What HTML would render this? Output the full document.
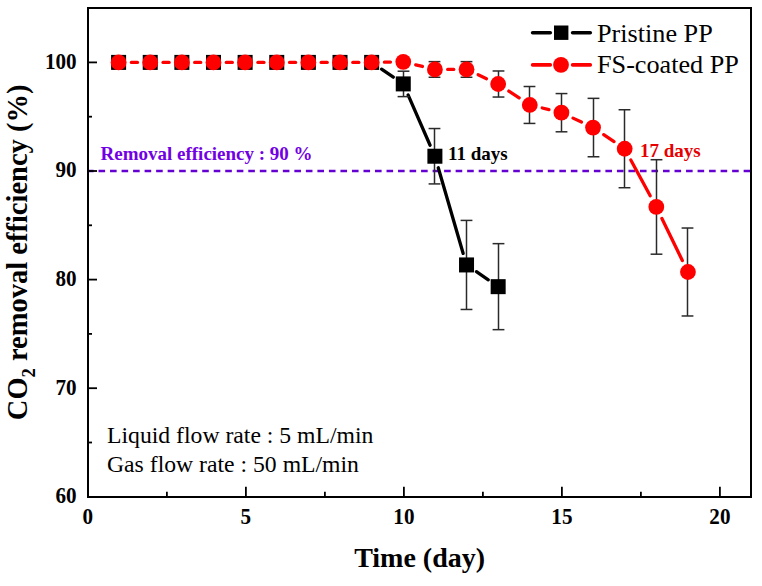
<!DOCTYPE html>
<html><head><meta charset="utf-8"><style>
html,body{margin:0;padding:0;background:#fff;width:762px;height:586px;overflow:hidden}
svg{display:block}
text{font-family:"Liberation Serif", serif}
</style></head><body>
<svg width="762" height="586" viewBox="0 0 762 586">
<rect width="762" height="586" fill="#fff"/>
<line x1="89" y1="171" x2="751" y2="171" stroke="#6400d2" stroke-width="2.5" stroke-dasharray="6.6 4.92" stroke-dashoffset="2.0"/>
<g stroke="#000" stroke-width="3.3" stroke-linecap="round"><line x1="381.56" y1="69.15" x2="393.35" y2="77.16"/><line x1="408.08" y1="94.90" x2="430.09" y2="145.24"/><line x1="438.25" y1="167.75" x2="463.18" y2="253.42"/><line x1="476.42" y1="271.73" x2="488.27" y2="279.87"/></g>
<g stroke="#2a2a2a" stroke-width="1.5"><line x1="403.50" y1="71.20" x2="403.50" y2="96.61"/><line x1="397.60" y1="71.20" x2="409.40" y2="71.20"/><line x1="397.60" y1="96.61" x2="409.40" y2="96.61"/><line x1="434.50" y1="128.54" x2="434.50" y2="183.92"/><line x1="428.60" y1="128.54" x2="440.40" y2="128.54"/><line x1="428.60" y1="183.92" x2="440.40" y2="183.92"/><line x1="466.50" y1="220.41" x2="466.50" y2="309.47"/><line x1="460.60" y1="220.41" x2="472.40" y2="220.41"/><line x1="460.60" y1="309.47" x2="472.40" y2="309.47"/><line x1="498.50" y1="243.65" x2="498.50" y2="329.66"/><line x1="492.60" y1="243.65" x2="504.40" y2="243.65"/><line x1="492.60" y1="329.66" x2="504.40" y2="329.66"/></g>
<g fill="#000"><rect x="111.10" y="54.90" width="15" height="15"/><rect x="142.73" y="54.90" width="15" height="15"/><rect x="174.36" y="54.90" width="15" height="15"/><rect x="205.99" y="54.90" width="15" height="15"/><rect x="237.62" y="54.90" width="15" height="15"/><rect x="269.25" y="54.90" width="15" height="15"/><rect x="300.88" y="54.90" width="15" height="15"/><rect x="332.51" y="54.90" width="15" height="15"/><rect x="364.14" y="54.90" width="15" height="15"/><rect x="395.77" y="76.40" width="15" height="15"/><rect x="427.40" y="148.73" width="15" height="15"/><rect x="459.03" y="257.44" width="15" height="15"/><rect x="490.66" y="279.16" width="15" height="15"/></g>
<g stroke="#ff0000" stroke-width="3.3" stroke-linecap="round"><line x1="131.40" y1="62.40" x2="137.43" y2="62.40"/><line x1="163.03" y1="62.40" x2="169.06" y2="62.40"/><line x1="194.66" y1="62.40" x2="200.69" y2="62.40"/><line x1="226.29" y1="62.40" x2="232.32" y2="62.40"/><line x1="257.92" y1="62.40" x2="263.95" y2="62.40"/><line x1="289.55" y1="62.40" x2="295.58" y2="62.40"/><line x1="321.18" y1="62.40" x2="327.21" y2="62.40"/><line x1="352.81" y1="62.40" x2="358.84" y2="62.40"/><line x1="384.44" y1="62.18" x2="390.47" y2="62.08"/><line x1="415.72" y1="64.85" x2="422.45" y2="66.47"/><line x1="447.70" y1="69.46" x2="453.73" y2="69.46"/><line x1="478.16" y1="74.81" x2="486.53" y2="78.66"/><line x1="508.83" y1="91.08" x2="519.12" y2="97.90"/><line x1="542.23" y1="108.00" x2="548.98" y2="109.65"/><line x1="573.00" y1="118.13" x2="581.47" y2="122.11"/><line x1="603.69" y1="134.68" x2="614.04" y2="141.62"/><line x1="630.79" y1="159.98" x2="650.20" y2="195.70"/><line x1="661.91" y1="218.46" x2="682.34" y2="260.49"/></g>
<g stroke="#2a2a2a" stroke-width="1.5"><line x1="434.50" y1="61.64" x2="434.50" y2="77.28"/><line x1="428.60" y1="61.64" x2="440.40" y2="61.64"/><line x1="428.60" y1="77.28" x2="440.40" y2="77.28"/><line x1="466.50" y1="61.64" x2="466.50" y2="77.28"/><line x1="460.60" y1="61.64" x2="472.40" y2="61.64"/><line x1="460.60" y1="77.28" x2="472.40" y2="77.28"/><line x1="498.50" y1="70.98" x2="498.50" y2="97.04"/><line x1="492.60" y1="70.98" x2="504.40" y2="70.98"/><line x1="492.60" y1="97.04" x2="504.40" y2="97.04"/><line x1="529.50" y1="86.51" x2="529.50" y2="123.43"/><line x1="523.60" y1="86.51" x2="535.40" y2="86.51"/><line x1="523.60" y1="123.43" x2="535.40" y2="123.43"/><line x1="561.50" y1="93.57" x2="561.50" y2="131.80"/><line x1="555.60" y1="93.57" x2="567.40" y2="93.57"/><line x1="555.60" y1="131.80" x2="567.40" y2="131.80"/><line x1="593.50" y1="98.35" x2="593.50" y2="156.77"/><line x1="587.60" y1="98.35" x2="599.40" y2="98.35"/><line x1="587.60" y1="156.77" x2="599.40" y2="156.77"/><line x1="624.50" y1="109.75" x2="624.50" y2="187.72"/><line x1="618.60" y1="109.75" x2="630.40" y2="109.75"/><line x1="618.60" y1="187.72" x2="630.40" y2="187.72"/><line x1="656.50" y1="159.71" x2="656.50" y2="254.19"/><line x1="650.60" y1="159.71" x2="662.40" y2="159.71"/><line x1="650.60" y1="254.19" x2="662.40" y2="254.19"/><line x1="687.50" y1="228.02" x2="687.50" y2="315.98"/><line x1="681.60" y1="228.02" x2="693.40" y2="228.02"/><line x1="681.60" y1="315.98" x2="693.40" y2="315.98"/></g>
<g fill="#ff0000"><circle cx="118.60" cy="62.40" r="7.9"/><circle cx="150.23" cy="62.40" r="7.9"/><circle cx="181.86" cy="62.40" r="7.9"/><circle cx="213.49" cy="62.40" r="7.9"/><circle cx="245.12" cy="62.40" r="7.9"/><circle cx="276.75" cy="62.40" r="7.9"/><circle cx="308.38" cy="62.40" r="7.9"/><circle cx="340.01" cy="62.40" r="7.9"/><circle cx="371.64" cy="62.40" r="7.9"/><circle cx="403.27" cy="61.86" r="7.9"/><circle cx="434.90" cy="69.46" r="7.9"/><circle cx="466.53" cy="69.46" r="7.9"/><circle cx="498.16" cy="84.01" r="7.9"/><circle cx="529.79" cy="104.97" r="7.9"/><circle cx="561.42" cy="112.68" r="7.9"/><circle cx="593.05" cy="127.56" r="7.9"/><circle cx="624.68" cy="148.74" r="7.9"/><circle cx="656.31" cy="206.95" r="7.9"/><circle cx="687.94" cy="272.00" r="7.9"/></g>
<g stroke="#000" stroke-width="1.8"><line x1="87.90" y1="486.80" x2="87.90" y2="496.80"/><line x1="245.90" y1="486.80" x2="245.90" y2="496.80"/><line x1="403.90" y1="486.80" x2="403.90" y2="496.80"/><line x1="561.90" y1="486.80" x2="561.90" y2="496.80"/><line x1="719.90" y1="486.80" x2="719.90" y2="496.80"/><line x1="166.90" y1="491.80" x2="166.90" y2="496.80"/><line x1="324.90" y1="491.80" x2="324.90" y2="496.80"/><line x1="482.90" y1="491.80" x2="482.90" y2="496.80"/><line x1="640.90" y1="491.80" x2="640.90" y2="496.80"/><line x1="88" y1="388.20" x2="97" y2="388.20"/><line x1="88" y1="279.60" x2="97" y2="279.60"/><line x1="88" y1="171.00" x2="97" y2="171.00"/><line x1="88" y1="62.40" x2="97" y2="62.40"/><line x1="88" y1="442.50" x2="92" y2="442.50"/><line x1="88" y1="333.90" x2="92" y2="333.90"/><line x1="88" y1="225.30" x2="92" y2="225.30"/><line x1="88" y1="116.70" x2="92" y2="116.70"/></g>
<rect x="88" y="8" width="663" height="489" fill="none" stroke="#000" stroke-width="2"/>
<g font-family="Liberation Serif" font-weight="bold" font-size="22" fill="#000"><text transform="translate(87.90,523.6) scale(0.96,1.07)" text-anchor="middle">0</text><text transform="translate(245.90,523.6) scale(0.96,1.07)" text-anchor="middle">5</text><text transform="translate(403.90,523.6) scale(0.96,1.07)" text-anchor="middle">10</text><text transform="translate(561.90,523.6) scale(0.96,1.07)" text-anchor="middle">15</text><text transform="translate(719.90,523.6) scale(0.96,1.07)" text-anchor="middle">20</text><text transform="translate(76.6,503.10) scale(0.96,1.07)" text-anchor="end">60</text><text transform="translate(76.6,394.50) scale(0.96,1.07)" text-anchor="end">70</text><text transform="translate(76.6,285.90) scale(0.96,1.07)" text-anchor="end">80</text><text transform="translate(76.6,177.30) scale(0.96,1.07)" text-anchor="end">90</text><text transform="translate(76.6,68.70) scale(0.96,1.07)" text-anchor="end">100</text></g>
<text x="419.6" y="567" text-anchor="middle" font-family="Liberation Serif" font-weight="bold" font-size="28">Time (day)</text>
<text transform="translate(27.4,252.4) rotate(-90)" text-anchor="middle" font-family="Liberation Serif" font-weight="bold" font-size="28.5">CO<tspan font-size="18.5" dy="7.6">2</tspan><tspan dy="-7.6"> removal efficiency (%)</tspan></text>
<g stroke-width="3.6" stroke-linecap="round">
<line x1="532.6" y1="32.7" x2="550.3" y2="32.7" stroke="#000"/><line x1="572.6" y1="32.7" x2="590.3" y2="32.7" stroke="#000"/>
<line x1="532.6" y1="64.9" x2="550.3" y2="64.9" stroke="#f00"/><line x1="572.6" y1="64.9" x2="590.3" y2="64.9" stroke="#f00"/>
</g>
<rect x="554" y="25.5" width="14.4" height="14.4" fill="#000"/>
<circle cx="561" cy="64.9" r="7.9" fill="#f00"/>
<g font-family="Liberation Serif" font-size="26.2" fill="#000">
<text x="597" y="41.9">Pristine PP</text>
<text x="597" y="73.4">FS-coated PP</text>
</g>
<g font-family="Liberation Serif" font-weight="bold" font-size="19">
<text x="100.5" y="160.2" fill="#7200e4">Removal efficiency : 90 %</text>
<text x="448" y="160.2" fill="#000">11 days</text>
<text x="640" y="156.6" fill="#e60000">17 days</text>
</g>
<g font-family="Liberation Serif" font-size="23.7" fill="#000">
<text x="107" y="442.9">Liquid flow rate : 5 mL/min</text>
<text x="107" y="472.3">Gas flow rate : 50 mL/min</text>
</g>
</svg>
</body></html>
